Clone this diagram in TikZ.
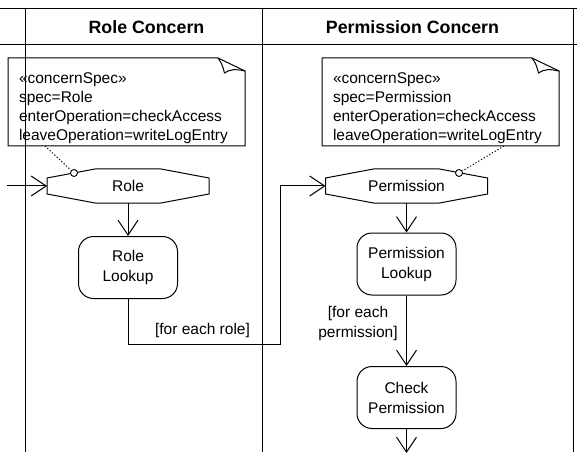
\documentclass[tikz,border=0pt]{standalone}
\usepackage{fontspec}
\setmainfont{Liberation Sans}
\usetikzlibrary{arrows.meta,calc}
\newcommand\drawocta[1]{\draw[line width=1pt] ($(#1.north west)+(48,0)$) -- ($(#1.north east)+(-48,0)$) -- ($(#1.north east)+(0,9)$) -- ($(#1.south east)+(0,-9)$) -- ($(#1.south east)+(-48,0)$) -- ($(#1.south west)+(48,0)$) -- ($(#1.south west)+(0,-9)$) -- ($(#1.north west)+(0,9)$) -- cycle;}
\newcommand\drawnote[1]{\draw[line width=1pt] (#1.north west) -- ($(#1.north east)+(-27,0)$) -- ($(#1.north east)+(0,13)$) -- (#1.south east) -- (#1.south west) -- cycle;
\draw[line width=1pt] ($(#1.north east)+(-27,0)$) .. controls ($(#1.north east)+(-23,6)$) .. ($(#1.north east)+(-20.5,15)$) .. controls ($(#1.north east)+(-15,11)$) and ($(#1.north east)+(-9,11)$) .. ($(#1.north east)+(0,13)$);}
\tikzset{
  lane/.style={line width=1pt},
  flow/.style={line width=1pt, -{Straight Barb[length=15pt,width=20pt,line width=1pt]}},
  act/.style={draw, line width=1pt, rounded corners=15pt, minimum width=99pt, minimum height=62pt, align=center, inner sep=0pt, font=\fontsize{15.5}{20}\selectfont},
  octnode/.style={minimum width=162pt, minimum height=34pt, inner sep=0pt, outer sep=0pt, font=\fontsize{15.5}{20}\selectfont},
  notenode/.style={anchor=north west, text width=215pt, inner xsep=11pt, inner ysep=0.15pt, outer sep=0pt, align=left, font=\fontsize{15.5}{19}\selectfont},
  pin/.style={circle, draw, line width=0.9pt, minimum size=7pt, inner sep=0pt, fill=white},
  hdr/.style={font=\fontsize{17.8}{20}\selectfont\bfseries},
  guard/.style={align=center, font=\fontsize{15.5}{20}\selectfont},
  dots/.style={line width=1pt, dash pattern=on 1.2pt off 2pt},
}
\begin{document}
\begin{tikzpicture}[x=1pt,y=-1pt]
\useasboundingbox (0,0) rectangle (577,454);
% swimlanes
\draw[lane] (0,9) -- (577,9);
\draw[lane] (0,44.5) -- (577,44.5);
\draw[lane] (25,9) -- (25,452);
\draw[lane] (262,9) -- (262,452);
\draw[lane] (573,9) -- (573,452);
\node[hdr] (h1) at (146.5,27) {Role Concern};
\node[hdr] (h2) at (412.5,27) {Permission Concern};
% notes
\node[notenode] (n1) at (8,58) {\rule{0pt}{25pt}«concernSpec»\\spec=Role\\enterOperation=checkAccess\\leaveOperation=writeLogEntry\strut};
\node[notenode] (n2) at (322,58) {\rule{0pt}{25pt}«concernSpec»\\spec=Permission\\enterOperation=checkAccess\\leaveOperation=writeLogEntry\strut};
\drawnote{n1}
\drawnote{n2}
% nodes
\node[octnode] (role) at (128,186) {Role};
\node[octnode] (perm) at (406.5,186) {Permission};
\drawocta{role}
\drawocta{perm}
\node[act] (rl) at (128,267.5) {Role\\Lookup};
\node[act] (pl) at (406.5,264) {Permission\\Lookup};
\node[act] (cp) at (406.5,397.5) {Check\\Permission};
\node[pin] (p1) at (74,173) {};
\node[pin] (p2) at (459,173) {};
\draw[dots] ($(n1.south west)+(37,0)$) -- (p1);
\draw[dots] ($(n2.south west)+(182,0)$) -- (p2);
% connectors
\coordinate (in) at (7,186);
\coordinate (out) at (406.5,453);
\coordinate (turn) at (280,344);
\draw[flow] (in) -- (role);
\draw[flow] (role) -- (rl);
\draw[flow] (rl.south) |- (turn) |- (perm.west);
\node[guard] (g1) at (202.5,330) {[for each role]};
\draw[flow] (perm) -- (pl);
\draw[flow] (pl) -- (cp);
\draw[flow] (cp) -- (out);
\node[guard] (g2) at (358,323) {[for each\\permission]};
\end{tikzpicture}
\end{document}
